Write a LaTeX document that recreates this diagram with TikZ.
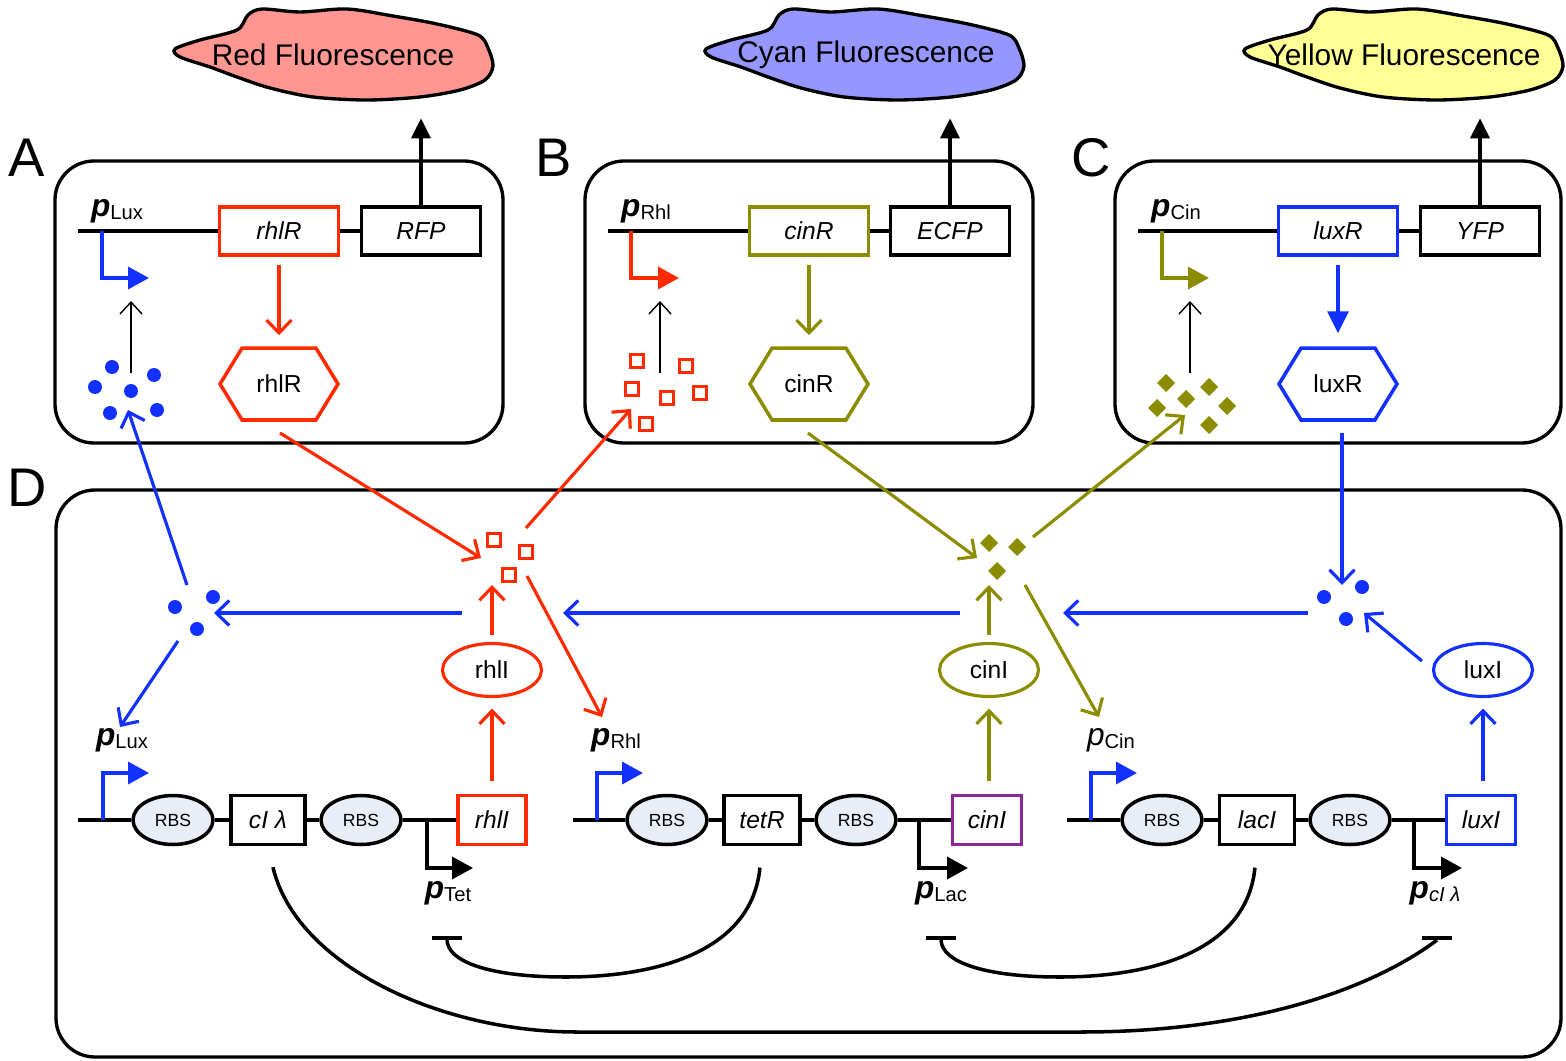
\documentclass[tikz,border=0pt]{standalone}
\usepackage{fontspec}
\setmainfont{Liberation Sans}
\usepackage{tikz}
\usetikzlibrary{shapes,positioning,calc}
\usetikzlibrary{shapes.geometric, shapes.symbols}
\usetikzlibrary{arrows.meta}
\definecolor{redc}{RGB}{255,42,0}
\definecolor{bluec}{RGB}{18,48,255}
\definecolor{olivec}{RGB}{140,140,0}
\definecolor{purplec}{RGB}{140,40,150}
\definecolor{rbsfill}{RGB}{233,237,246}
\definecolor{redfill}{RGB}{255,150,145}
\definecolor{cyanfill}{RGB}{150,150,255}
\definecolor{yelfill}{RGB}{255,255,150}
\newcommand{\promlab}[2][\bfseries]{{\fontsize{18}{18}\selectfont#1\itshape p}\raisebox{-1.7pt}{\fontsize{11.5}{12}\selectfont #2}}
\tikzstyle{panel} = [line width=1.9pt, rounded corners=0.78cm]
\tikzstyle{panlab} = [font=\fontsize{31}{31}\selectfont, inner sep=0pt]
\tikzstyle{cloud} = [line width=1.9pt]
\tikzstyle{cloudtxt} = [font=\fontsize{17}{17}\selectfont, minimum height=1.8cm, inner sep=0pt]
\tikzstyle{dna} = [line width=2pt]
\tikzstyle{gene} = [draw, line width=2pt, fill=white, minimum width=2.38cm, minimum height=0.96cm, inner sep=0pt, font=\fontsize{14}{14}\selectfont\itshape]
\tikzstyle{rbs} = [draw, ellipse, line width=2pt, fill=rbsfill, minimum width=1.6cm, minimum height=0.98cm, inner sep=0pt, font=\fontsize{10}{10}\selectfont]
\tikzstyle{prot} = [draw, signal, signal to=east and west, signal pointer angle=117, line width=2pt, minimum width=2.36cm, minimum height=1.44cm, inner sep=0pt, font=\fontsize{14}{14}\selectfont]
\tikzstyle{enz} = [draw, ellipse, line width=1.8pt, minimum width=1.98cm, minimum height=1.06cm, inner sep=0pt, font=\fontsize{14}{14}\selectfont]
\tikzstyle{plab} = [inner sep=0pt]
\tikzstyle{act} = [line width=1.8pt, -{Straight Barb[length=2.6mm, width=5mm]}]
\tikzstyle{actfill} = [line width=1.9pt, -{Triangle[length=4.4mm, width=4.2mm]}]
\tikzstyle{sense} = [line width=0.8pt, -{Straight Barb[length=2.4mm, width=4.4mm]}]
\tikzstyle{promo} = [line width=2pt, -{Triangle[length=4.2mm, width=4.4mm]}]
\tikzstyle{outarr} = [line width=2pt, -{Triangle[length=4mm, width=3.8mm]}]
\tikzstyle{repress} = [line width=2pt]
\tikzstyle{tbar} = [fill=black, minimum width=0.6cm, minimum height=2pt, inner sep=0pt]
\begin{document}
\begin{tikzpicture}[x=0.02cm, y=-0.02cm]
	\useasboundingbox (0,0) rectangle (1566,1061);
	\foreach \dx/\col in {0/redfill, 531/cyanfill, 1070/yelfill}
		\draw[cloud, fill=\col, shift={(\dx,0)}] plot[smooth cycle] coordinates {(175,49) (200,40) (237,30) (248,15) (262,9) (300,12) (347,9) (393,16) (437,24) (478,35) (488,48) (493,66) (485,80) (460,90) (420,97) (367,100) (313,97) (270,88) (237,77) (210,67) (180,57)};
	\node[cloudtxt] (redfl) at (333,55) {Red Fluorescence};
	\node[cloudtxt] (cyanfl) at (866,55) {Cyan Fluorescence};
	\node[cloudtxt] (yelfl) at (1404,55) {Yellow Fluorescence};

	\draw[panel] (55,161) rectangle (503,443);
	\draw[panel] (585,161) rectangle (1033,443);
	\draw[panel] (1115,161) rectangle (1561,443);
	\draw[panel] (56,490) rectangle (1561,1057);
	\node[panlab] (labA) at (27,158) {A};
	\node[panlab] (labB) at (554,158) {B};
	\node[panlab] (labC) at (1091,158) {C};
	\node[panlab] (labD) at (27,488) {D};

	\coordinate (dnaA) at (78,231);
	\node[gene, draw=redc] (rhlRA) at (279,231) {rhlR};
	\node[gene] (rfp) at (421,231) {RFP};
	\draw[dna] (dnaA) -- (rhlRA) -- (rfp);
	\node[plab] (pluxA) at (117,211) {\promlab{Lux}};
	\coordinate (prA) at (102,231);
	\coordinate (prAe) at (149,278);
	\draw[promo, bluec] (prA) |- (prAe);
	\node[prot, draw=redc] (hexA) at (279,384) {rhlR};
	\draw[act, redc, shorten <=0.16cm, shorten >=0.22cm] (rhlRA.south) -- (hexA.north);
	\foreach \x/\y in {112/367, 95/387, 131/391, 154/375, 110/413, 157/410}
		\fill[bluec] (\x,\y) circle (1.4mm);
	\coordinate (ahlA) at (131,373);
	\coordinate (ahlAe) at (131,301);
	\draw[sense] (ahlA) -- (ahlAe);
	\draw[outarr, shorten >=0.36cm] (rfp.north) -- (rfp.north |- redfl.south);

	\coordinate (dnaB) at (608,231);
	\node[gene, draw=olivec] (cinRB) at (809,231) {cinR};
	\node[gene] (ecfp) at (950,231) {ECFP};
	\draw[dna] (dnaB) -- (cinRB) -- (ecfp);
	\node[plab] (prhlB) at (646,211) {\promlab{Rhl}};
	\coordinate (prB) at (631,231);
	\coordinate (prBe) at (679,278);
	\draw[promo, redc] (prB) |- (prBe);
	\node[prot, draw=olivec] (hexB) at (809,384) {cinR};
	\draw[act, olivec, shorten <=0.16cm, shorten >=0.22cm] (cinRB.south) -- (hexB.north);
	\foreach \x/\y in {637/361, 686/366, 632/389, 667/398, 700/393, 646/424}
		\draw[redc, line width=1.5pt] (\x-6.5,\y-6.5) rectangle (\x+6.5,\y+6.5);
	\coordinate (ahlB) at (660,373);
	\coordinate (ahlBe) at (660,301);
	\draw[sense] (ahlB) -- (ahlBe);
	\draw[outarr, shorten >=0.36cm] (ecfp.north) -- (ecfp.north |- cyanfl.south);

	\coordinate (dnaC) at (1138,231);
	\node[gene, draw=bluec] (luxRC) at (1338,231) {luxR};
	\node[gene] (yfp) at (1480,231) {YFP};
	\draw[dna] (dnaC) -- (luxRC) -- (yfp);
	\node[plab] (pcinC) at (1176,211) {\promlab{Cin}};
	\coordinate (prC) at (1162,231);
	\coordinate (prCe) at (1209,278);
	\draw[promo, olivec] (prC) |- (prCe);
	\node[prot, draw=bluec] (hexC) at (1338,384) {luxR};
	\draw[actfill, bluec, shorten <=0.16cm, shorten >=0.26cm] (luxRC.south) -- (hexC.north);
	\foreach \x/\y in {1166/383, 1209/387, 1186/399, 1157/408, 1227/406, 1209/425}
		\fill[olivec] (\x-9,\y) -- (\x,\y-9) -- (\x+9,\y) -- (\x,\y+9) -- cycle;
	\coordinate (ahlC) at (1190,373);
	\coordinate (ahlCe) at (1190,301);
	\draw[sense] (ahlC) -- (ahlCe);
	\draw[outarr, shorten >=0.36cm] (yfp.north) -- (yfp.north |- yelfl.south);

	\coordinate (dnaD1) at (78,820);
	\node[rbs] (rbs1) at (173,820) {RBS};
	\node[gene, minimum width=1.48cm, minimum height=0.98cm] (cilam) at (268,820) {cI λ};
	\node[rbs] (rbs2) at (361,820) {RBS};
	\node[gene, draw=redc, minimum width=1.36cm, minimum height=0.98cm] (rhlIg) at (492,820) {rhlI};
	\draw[dna] (dnaD1) -- (rbs1) -- (cilam) -- (rbs2) -- (rhlIg);
	\coordinate (dnaD2) at (573,820);
	\node[rbs] (rbs3) at (667,820) {RBS};
	\node[gene, minimum width=1.52cm, minimum height=0.98cm] (tetRg) at (762,820) {tetR};
	\node[rbs] (rbs4) at (856,820) {RBS};
	\node[gene, draw=purplec, minimum width=1.38cm, minimum height=0.98cm] (cinIg) at (987,820) {cinI};
	\draw[dna] (dnaD2) -- (rbs3) -- (tetRg) -- (rbs4) -- (cinIg);
	\coordinate (dnaD3) at (1067,820);
	\node[rbs] (rbs5) at (1162,820) {RBS};
	\node[gene, minimum width=1.5cm, minimum height=0.98cm] (lacIg) at (1257,820) {lacI};
	\node[rbs] (rbs6) at (1350,820) {RBS};
	\node[gene, draw=bluec, minimum width=1.38cm, minimum height=0.98cm] (luxIg) at (1481,820) {luxI};
	\draw[dna] (dnaD3) -- (rbs5) -- (lacIg) -- (rbs6) -- (luxIg);

	\coordinate (prD1) at (103,820);
	\coordinate (prD1e) at (149,773);
	\draw[promo, bluec] (prD1) |- (prD1e);
	\coordinate (prD2) at (597,820);
	\coordinate (prD2e) at (643,773);
	\draw[promo, bluec] (prD2) |- (prD2e);
	\coordinate (prD3) at (1091,820);
	\coordinate (prD3e) at (1137,773);
	\draw[promo, bluec] (prD3) |- (prD3e);
	\coordinate (ptet) at (427,820);
	\coordinate (ptete) at (473,868);
	\draw[promo] (ptet) |- (ptete);
	\coordinate (plac) at (919,820);
	\coordinate (place) at (968,868);
	\draw[promo] (plac) |- (place);
	\coordinate (pcil) at (1414,820);
	\coordinate (pcile) at (1462,868);
	\draw[promo] (pcil) |- (pcile);

	\node[plab] (pluxD) at (122,740) {\promlab{Lux}};
	\node[plab] (prhlD) at (616,740) {\promlab{Rhl}};
	\node[plab] (pcinD) at (1111,740) {\promlab[\mdseries]{Cin}};
	\node[plab] (ptetD) at (448,893) {\promlab{Tet}};
	\node[plab] (placD) at (941,893) {\promlab{Lac}};
	\node[plab] (pcilD) at (1435,893) {\promlab{\itshape cI λ}};

	\node[enz, draw=redc] (rhlIe) at (492,670) {rhlI};
	\node[enz, draw=olivec] (cinIe) at (989,670) {cinI};
	\node[enz, draw=bluec] (luxIe) at (1483,670) {luxI};
	\draw[act, redc, shorten <=0.25cm, shorten >=0.21cm] (rhlIg.north) -- (rhlIe.south);
	\draw[act, olivec, shorten <=0.25cm, shorten >=0.21cm] (cinIg.north -| cinIe.south) -- (cinIe.south);
	\draw[act, bluec, shorten <=0.25cm, shorten >=0.21cm] (luxIg.north -| luxIe.south) -- (luxIe.south);

	\foreach \x/\y in {494/540, 526/552, 509/575}
		\draw[redc, line width=1.5pt] (\x-6.5,\y-6.5) rectangle (\x+6.5,\y+6.5);
	\foreach \x/\y in {989/543, 1017/547, 997/571}
		\fill[olivec] (\x-9,\y) -- (\x,\y-9) -- (\x+9,\y) -- (\x,\y+9) -- cycle;
	\foreach \x/\y in {175/607, 213/597, 197/629, 1324/597, 1362/587, 1346/619}
		\fill[bluec] (\x,\y) circle (1.4mm);

	\coordinate (rhlRout) at (280,433);
	\coordinate (sqDin) at (481,558);
	\coordinate (sqDup) at (526,528);
	\coordinate (sqBin) at (631,409);
	\coordinate (sqDdn) at (527,576);
	\coordinate (prhlin) at (602,717);
	\coordinate (sqDbot) at (492,585);
	\draw[act, redc] (rhlRout) -- (sqDin);
	\draw[act, redc] (sqDup) -- (sqBin);
	\draw[act, redc] (sqDdn) -- (prhlin);
	\draw[act, redc, shorten <=0.13cm] (rhlIe.north) -- (sqDbot);

	\coordinate (cinRout) at (808,433);
	\coordinate (dgDin) at (977,558);
	\coordinate (dgDup) at (1033,537);
	\coordinate (dgCin) at (1185,415);
	\coordinate (dgDdn) at (1025,585);
	\coordinate (pcinin) at (1099,717);
	\coordinate (dgDbot) at (989,585);
	\draw[act, olivec] (cinRout) -- (dgDin);
	\draw[act, olivec] (dgDup) -- (dgCin);
	\draw[act, olivec] (dgDdn) -- (pcinin);
	\draw[act, olivec, shorten <=0.13cm] (cinIe.north) -- (dgDbot);

	\coordinate (dotLup) at (187,585);
	\coordinate (dotAin) at (128,410);
	\coordinate (dotLdn) at (178,641);
	\coordinate (pluxin) at (120,727);
	\coordinate (sqDl) at (462,613);
	\coordinate (dotLin) at (214,613);
	\coordinate (dgDl) at (960,613);
	\coordinate (sqDr) at (563,613);
	\coordinate (luxRout) at (1342,433);
	\coordinate (dotRin) at (1342,585);
	\coordinate (dotRl) at (1308,613);
	\coordinate (dgDr) at (1063,613);
	\coordinate (luxIout) at (1422,661);
	\coordinate (dotRbot) at (1364,613);
	\draw[act, bluec] (dotLup) -- (dotAin);
	\draw[act, bluec] (dotLdn) -- (pluxin);
	\draw[act, bluec] (sqDl) -- (dotLin);
	\draw[act, bluec] (dgDl) -- (sqDr);
	\draw[act, bluec] (luxRout) -- (dotRin);
	\draw[act, bluec] (dotRl) -- (dgDr);
	\draw[act, bluec] (luxIout) -- (dotRbot);

	\node[tbar] (barTet) at (447,938) {};
	\node[tbar] (barLac) at (941,938) {};
	\node[tbar] (barCI) at (1437,938) {};
	\draw[repress, shorten <=0.43cm] (tetRg.south) .. controls (752,950) and (660,977) .. (566,977) .. controls (490,977) and (448,962) .. (barTet.south);
	\draw[repress, shorten <=0.43cm] (lacIg.south) .. controls (1247,950) and (1154,977) .. (1060,977) .. controls (984,977) and (942,962) .. (barLac.south);
	\draw[repress, shorten <=0.43cm] (cilam.south) .. controls (296,965) and (440,1032) .. (577,1032) -- (1081,1032) .. controls (1250,1032) and (1370,990) .. (barCI.south);
\end{tikzpicture}
\end{document}
